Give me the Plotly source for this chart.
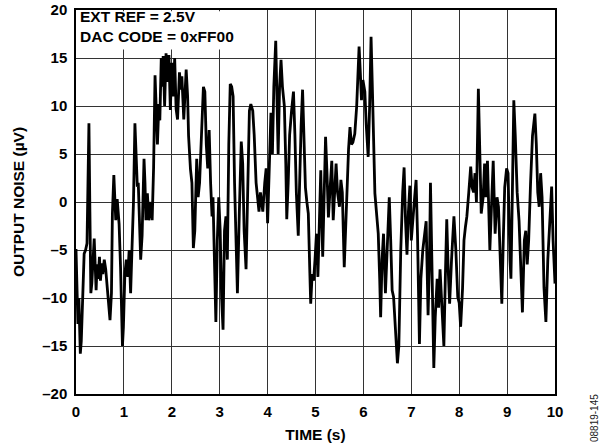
import plotly.graph_objects as go

time_s = [
    0.00, 0.02, 0.04, 0.06, 0.09, 0.11, 0.14, 0.17, 0.20, 0.23, 0.25, 0.27, 0.29, 0.31, 0.33, 0.36, 0.38,
    0.42, 0.44, 0.46, 0.49, 0.51, 0.54, 0.56, 0.59, 0.62, 0.66, 0.71, 0.74, 0.76, 0.79, 0.81, 0.83, 0.86,
    0.90, 0.93, 0.97, 0.99, 1.02, 1.05, 1.08, 1.11, 1.14, 1.17, 1.20, 1.23, 1.25, 1.28, 1.30, 1.32, 1.35,
    1.38, 1.42, 1.44, 1.46, 1.49, 1.52, 1.56, 1.59, 1.62, 1.65, 1.68, 1.70, 1.73, 1.75, 1.78, 1.80, 1.82,
    1.85, 1.88, 1.91, 1.94, 1.97, 2.00, 2.03, 2.06, 2.09, 2.12, 2.16, 2.19, 2.21, 2.25, 2.30, 2.33, 2.35,
    2.39, 2.42, 2.45, 2.48, 2.52, 2.55, 2.58, 2.62, 2.66, 2.69, 2.72, 2.75, 2.78, 2.81, 2.84, 2.86, 2.89,
    2.92, 2.95, 2.98, 3.01, 3.04, 3.07, 3.10, 3.13, 3.16, 3.19, 3.22, 3.25, 3.28, 3.31, 3.34, 3.37, 3.41,
    3.45, 3.48, 3.51, 3.55, 3.58, 3.62, 3.65, 3.69, 3.72, 3.76, 3.79, 3.82, 3.85, 3.87, 3.90, 3.94, 3.97,
    4.00, 4.04, 4.07, 4.10, 4.13, 4.17, 4.20, 4.22, 4.25, 4.28, 4.31, 4.35, 4.38, 4.40, 4.43, 4.46, 4.50,
    4.54, 4.57, 4.60, 4.64, 4.67, 4.70, 4.73, 4.76, 4.79, 4.82, 4.85, 4.88, 4.90, 4.93, 4.96, 4.99, 5.02,
    5.05, 5.08, 5.11, 5.15, 5.18, 5.21, 5.24, 5.27, 5.30, 5.34, 5.37, 5.40, 5.43, 5.46, 5.50, 5.53, 5.56,
    5.60, 5.63, 5.66, 5.69, 5.72, 5.75, 5.78, 5.82, 5.86, 5.89, 5.91, 5.94, 5.96, 5.99, 6.03, 6.06, 6.10,
    6.13, 6.16, 6.19, 6.22, 6.24, 6.28, 6.31, 6.34, 6.36, 6.39, 6.42, 6.46, 6.50, 6.54, 6.57, 6.60, 6.63,
    6.67, 6.71, 6.74, 6.78, 6.82, 6.85, 6.88, 6.91, 6.94, 6.97, 7.00, 7.04, 7.07, 7.10, 7.13, 7.17, 7.20,
    7.24, 7.28, 7.31, 7.35, 7.38, 7.40, 7.43, 7.47, 7.50, 7.54, 7.57, 7.60, 7.64, 7.68, 7.71, 7.74, 7.77,
    7.80, 7.84, 7.89, 7.93, 7.97, 8.00, 8.03, 8.07, 8.10, 8.13, 8.16, 8.20, 8.24, 8.27, 8.30, 8.33, 8.36,
    8.40, 8.43, 8.46, 8.50, 8.53, 8.56, 8.59, 8.64, 8.67, 8.71, 8.75, 8.79, 8.82, 8.86, 8.89, 8.92, 8.95,
    8.99, 9.02, 9.06, 9.08, 9.11, 9.14, 9.17, 9.21, 9.25, 9.29, 9.32, 9.36, 9.39, 9.42, 9.45, 9.49, 9.53,
    9.58, 9.61, 9.64, 9.67, 9.70, 9.73, 9.77, 9.81, 9.85, 9.89, 9.93, 9.96, 10.00,
]

noise_uv = [
    -4.9, -10.2, -12.7, -10.0, -15.8, -14.5, -10.0, -5.4, -5.0, -4.3, 2.0, 8.2, -1.0, -9.5, -8.5, -5.0, -3.8,
    -9.2, -6.5, -8.0, -5.7, -8.2, -6.4, -7.5, -6.0, -7.0, -9.5, -12.3, -9.5, -1.2, 2.8, 0.9, -1.9, 0.3,
    -2.3, -6.8, -15.0, -13.0, -7.5, -6.0, -7.8, -5.0, -9.5, -4.7, 0.0, 8.2, 4.7, 1.6, 2.0, -0.5, -6.0,
    -3.5, 4.5, 2.0, -1.9, 0.9, -1.9, 0.0, -1.9, 3.6, 13.2, 9.0, 6.0, 10.2, 8.5, 15.0, 12.0, 15.2,
    10.0, 15.5, 12.5, 15.3, 9.6, 14.5, 11.0, 15.0, 9.7, 8.6, 13.5, 11.7, 13.1, 8.6, 13.8, 11.0, 6.9,
    3.4, 2.0, -4.8, -3.0, 4.5, 0.5, 2.0, 7.0, 12.0, 11.5, 6.0, 3.5, 7.5, 2.0, -1.5, 0.5, -6.0,
    -12.5, -4.0, 0.5, -3.0, -10.0, -13.3, -3.0, -1.5, -6.0, 6.0, 12.3, 12.0, 11.0, 2.0, -3.0, -9.5, -1.0,
    6.3, 4.0, -3.0, -7.0, 0.0, 9.5, 10.2, 9.5, 7.0, 2.0, 0.5, -1.0, 1.0, 0.2, -1.0, 2.0, 3.5,
    -2.2, 6.0, 9.3, 5.0, 12.0, 16.8, 7.0, 5.0, 12.0, 14.8, 12.0, 10.0, 4.0, -1.8, 2.0, 7.0, 9.5,
    11.5, 7.0, 1.0, -3.5, 3.0, 8.0, 11.7, 6.0, 1.5, 0.0, -1.2, -7.0, -10.6, -7.5, -8.2, -6.0, -3.3,
    -7.8, -3.0, 3.3, -5.7, 1.0, 6.8, 3.0, -1.6, 1.0, 4.3, -1.9, 1.9, 4.0, 1.0, -0.5, 2.3, 1.0,
    -6.8, -2.0, 3.0, 5.5, 7.8, 6.0, 6.2, 7.1, 10.0, 14.0, 16.2, 13.0, 10.6, 12.7, 11.5, 8.0, 4.7,
    10.0, 17.2, 11.3, 5.0, 0.9, -1.5, -3.3, -8.0, -12.0, -6.0, -3.3, -9.5, -4.0, 0.5, -4.0, -9.2, -9.9,
    -14.0, -16.8, -15.0, -5.0, 1.0, 3.6, -2.0, -5.5, -1.0, 1.7, -4.0, -1.0, 0.5, 2.3, -3.5, -14.8, -8.0,
    -5.0, -3.5, -2.0, -11.8, -6.0, 2.0, -6.0, -17.3, -12.0, -8.0, -11.0, -7.0, -11.0, -15.0, -8.0, -1.8, -7.0,
    -10.6, -6.0, -1.5, -5.0, -9.9, -10.5, -13.0, -9.0, -4.0, -2.6, -1.5, 1.0, 3.7, 1.5, 1.0, 3.0, 0.0,
    11.8, 4.3, -1.2, 0.5, 4.0, 0.5, 4.3, -5.0, 0.0, 4.3, -3.3, 0.5, -0.5, -6.0, -10.6, -4.0, 1.5,
    3.5, 3.0, -6.0, -8.0, 1.0, 10.6, 7.0, 1.0, -2.0, -7.4, -11.5, -4.0, -3.0, -6.5, -4.0, 2.0, 6.9,
    9.2, 6.0, 1.0, -0.5, 3.0, 0.5, -8.9, -12.5, -6.0, -2.0, 1.6, -4.0, -8.5,
]

x_ticks = [0, 1, 2, 3, 4, 5, 6, 7, 8, 9, 10]
x_tick_labels = ["0", "1", "2", "3", "4", "5", "6", "7", "8", "9", "10"]
y_ticks = [-20, -15, -10, -5, 0, 5, 10, 15, 20]
y_tick_labels = ["–20", "–15", "–10", "–5", "0", "5", "10", "15", "20"]

FONT = "Liberation Sans, Arial, Helvetica, sans-serif"
BOLD = dict(family=FONT, color="black", weight="bold")

fig = go.Figure()
fig.add_trace(go.Scatter(
    x=time_s, y=noise_uv, mode="lines",
    line=dict(color="black", width=2.8),
    showlegend=False, hoverinfo="skip",
))

# white box behind the conditions text (hides the grid there)
fig.add_shape(type="rect", xref="paper", yref="paper", x0=0.003, x1=0.35, y0=0.897, y1=0.997,
              fillcolor="white", line=dict(width=0), layer="above")

fig.add_annotation(xref="paper", yref="paper", x=0.004, y=0.982, xanchor="left", yanchor="middle",
                   text="EXT REF = 2.5V", showarrow=False, font=dict(size=15.5, **BOLD))
fig.add_annotation(xref="paper", yref="paper", x=0.004, y=0.930, xanchor="left", yanchor="middle",
                   text="DAC CODE = 0xFF00", showarrow=False, font=dict(size=15.5, **BOLD))

fig.add_annotation(xref="paper", yref="paper", x=1.084, y=-0.062, xanchor="center", yanchor="middle",
                   text="08819-145", textangle=-90, showarrow=False,
                   font=dict(family=FONT, size=10, color="#222"))

axis_common = dict(
    showline=True, linecolor="black", linewidth=1.5, mirror=True,
    showgrid=True, gridcolor="#333333", gridwidth=1,
    zeroline=False, ticks="", automargin=False,
    tickfont=dict(size=15, **BOLD),
)

fig.update_xaxes(range=[0, 10], tickvals=x_ticks, ticktext=x_tick_labels, ticklabelstandoff=3,
                 title=dict(text="TIME (s)", standoff=10, font=dict(size=15.5, **BOLD)),
                 **axis_common)
fig.update_yaxes(range=[-20, 20], tickvals=y_ticks, ticktext=y_tick_labels, ticklabelstandoff=4,
                 title=dict(text="OUTPUT NOISE (µV)", standoff=14, font=dict(size=15.5, **BOLD)),
                 **axis_common)

fig.update_layout(
    width=605, height=448,
    margin=dict(l=76, r=50, t=10, b=54),
    plot_bgcolor="white", paper_bgcolor="white",
)

fig.write_html("out.html", config={"displayModeBar": False},
               post_script="document.body.style.margin='0';")
